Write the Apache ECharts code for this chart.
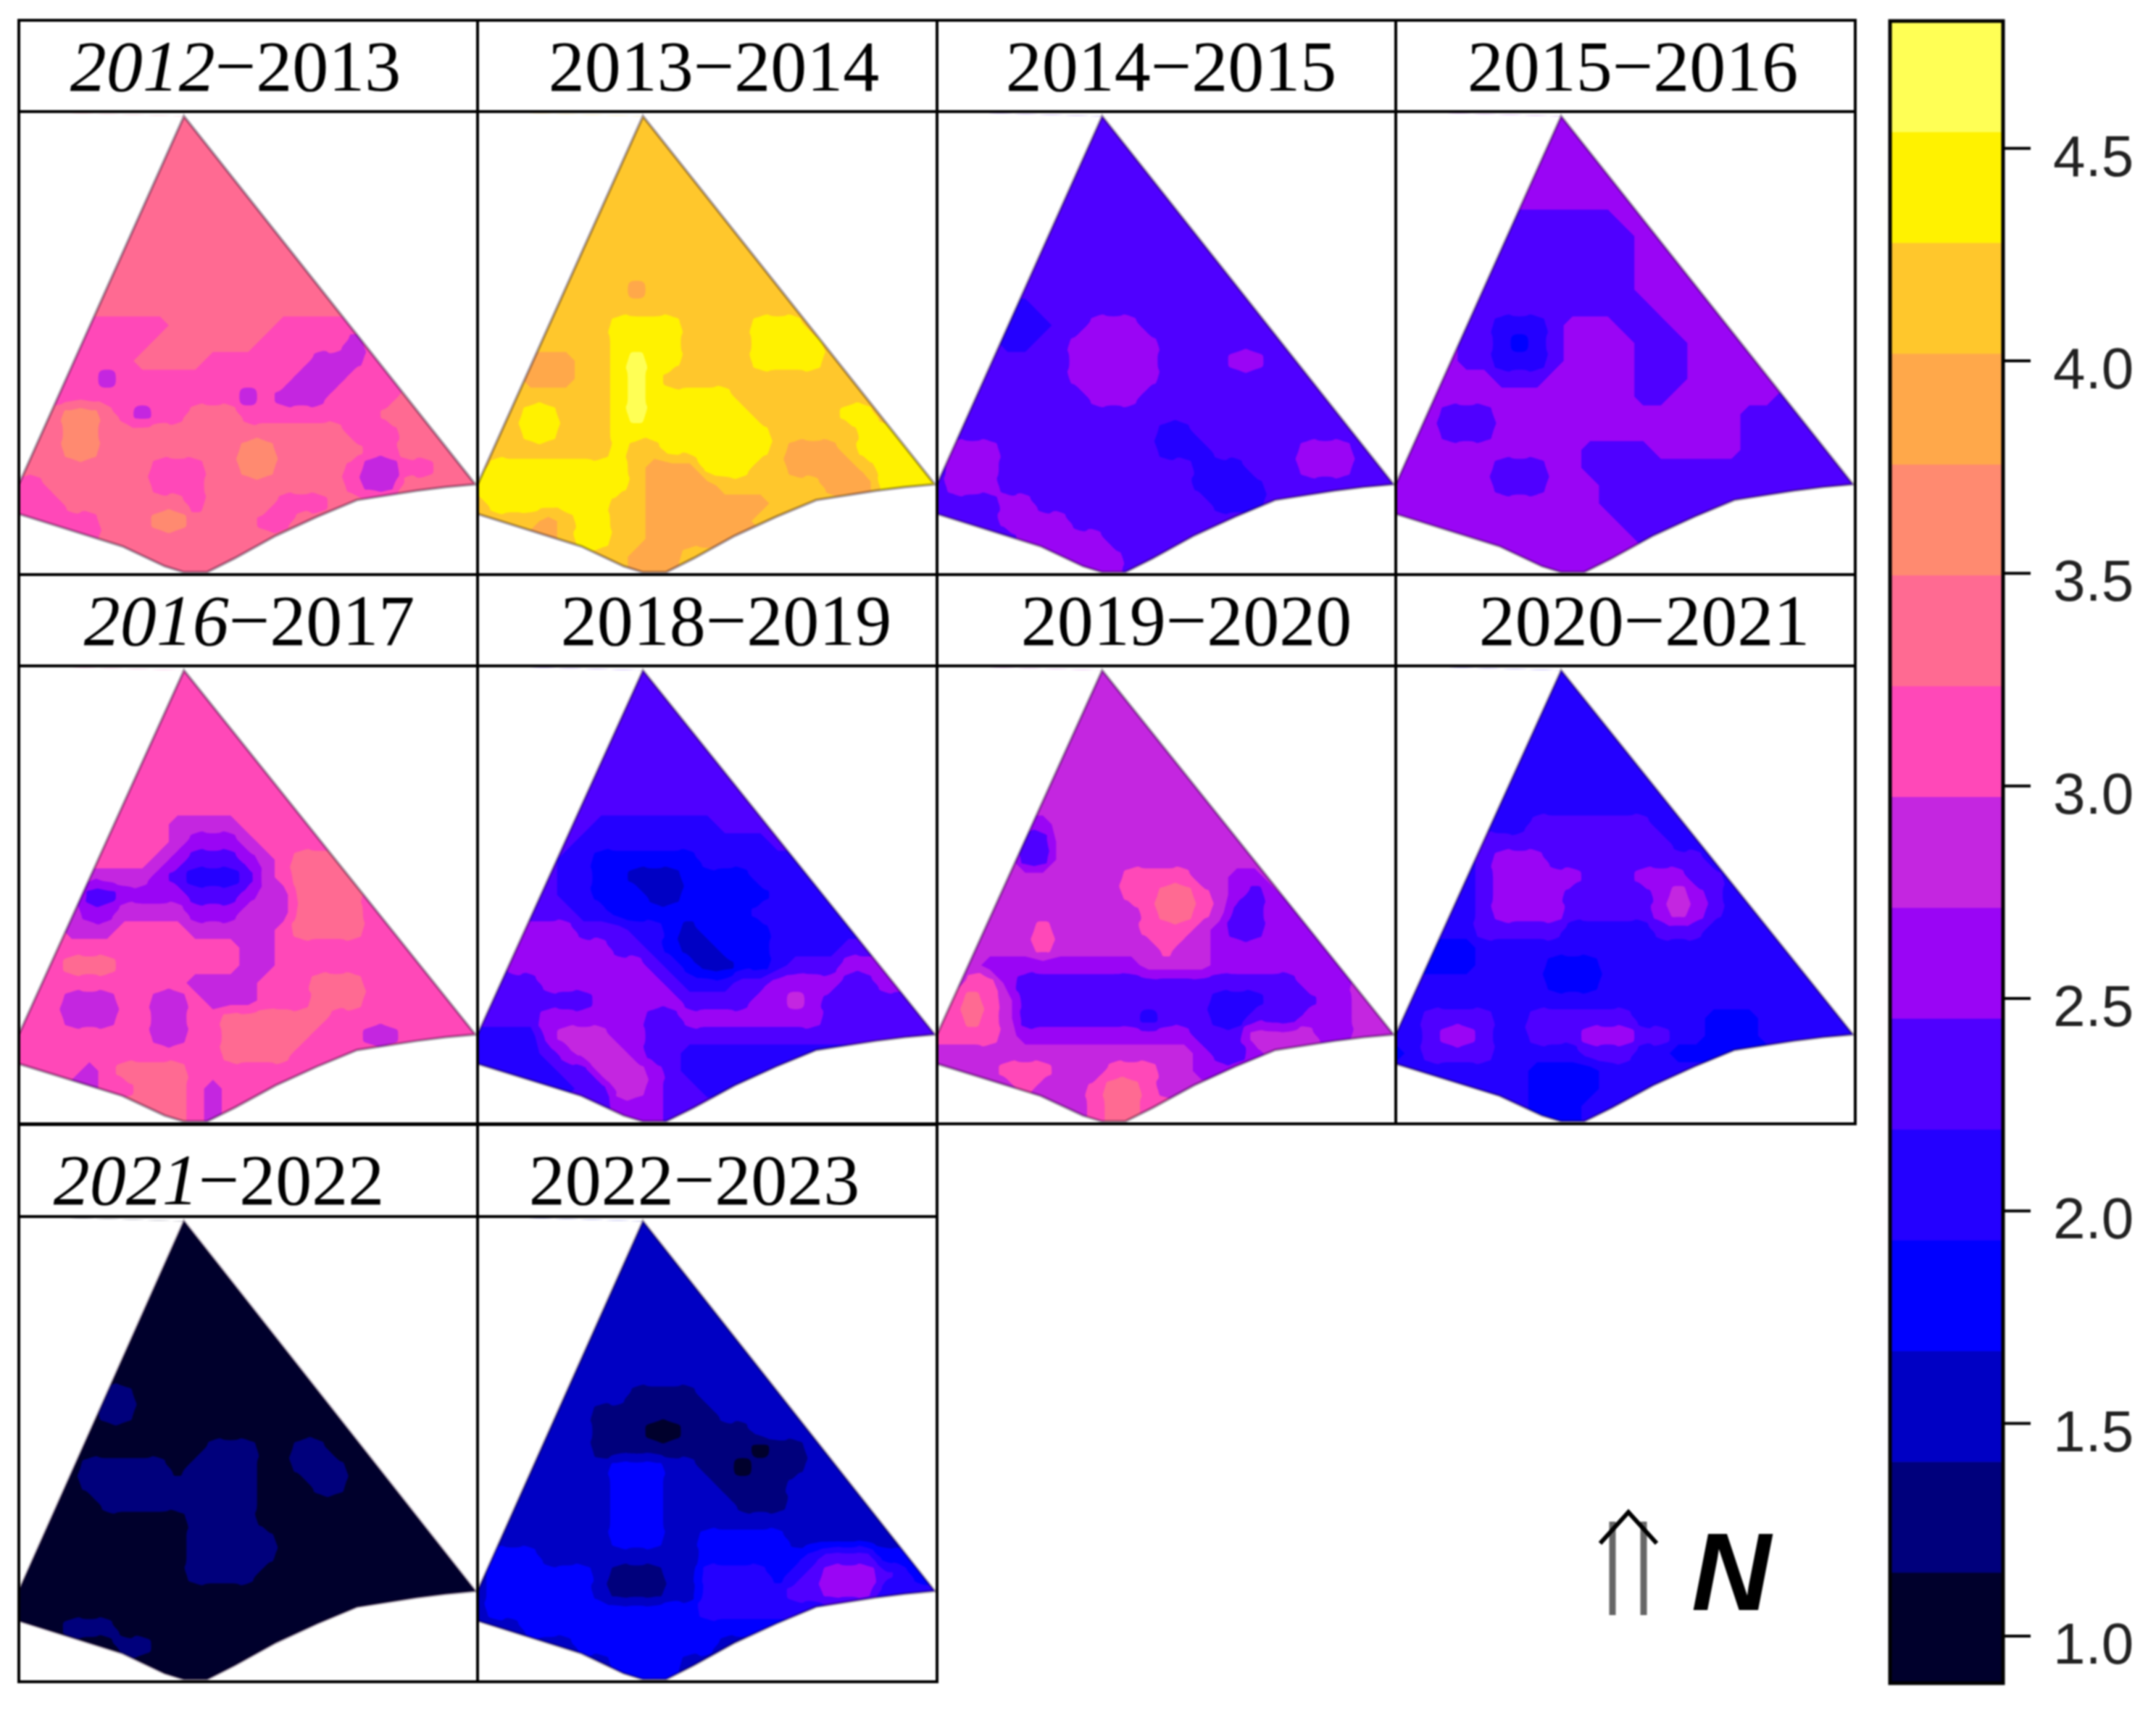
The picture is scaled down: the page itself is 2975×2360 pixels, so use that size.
<!DOCTYPE html>
<html><head><meta charset="utf-8">
<style>html,body{margin:0;padding:0;background:#fff}#c{width:2975px;height:2360px;filter:blur(1px)}</style>
<script src="https://cdn.jsdelivr.net/npm/echarts@6/dist/echarts.min.js"></script>
</head><body><div id="c"></div>
<script>
// Band colours of the legend, lowest band first; each band is 0.26 wide from 0.889.
const bandColors = ['#00002c','#00007c','#0000c4','#0000ff','#2400ff','#4f00ff','#9a05f5','#c426e0','#ff48b8','#ff6a92','#ff8a70','#ffa84a','#ffc72c','#fff200','#ffff55'];
const bandStart = 0.889, bandWidth = 0.2607;
const legendTicks = [1,1.5,2,2.5,3,3.5,4,4.5];

// Each panel: band index per sampled node (hex-like char), rows run north to south.
// rowStart gives the first sampled column of each row inside the site.
const rowStart = [9,9,8,8,7,7,6,6,5,5,4,4,4,3,3,2,2,1,1,0,0,0,0,1,4,7];

const p2012 = ["99","99","9999","99999","9999999","9999999","999999999","9999999999","999999999999","999999999999","99999999999999","999999999999999",
"8888899999988888","888889999998888878","888899998888887778","88878888888888777888","888888888887877788889","99aa9878899988888888999","99aa99999999999999888999",
"999aa99999999aa9999988999","9999999988899aa99998778899","88999999888999999998779999","88899999998999988899","8888999aa9999889","89999999999","999999"];
const p2013 = ["cc","cc","cccc","ccccc","ccccccc","ccccccc","ccccccccc","cccccccccc","cccccccccccc","cccccccccccc","cccccbcccccccc","ccccccccccccccc",
"ccccddddccccdddc","cccccddddccccddddc","bbbccdeddccccddddc","cbbbccdedccccccccccc","ccccccdedddddcccccccc","ccddcccdeddddddcccccddc","ccddcccdddddddddcccccddd",
"ccccccccdccddddddcbbbcddd","cddddddddcbbbdddccbbbbcddd","dddddddddcbbbbccccccbbbddd","cdddddddccbbbbbbbccc","cccbcddccbbbbbbc","bcddccbbbbb","ccbbbc"];
const p2014 = ["55","55","5555","55555","5555555","5555555","555555555","5555555555","555555555555","555555555555","55555555555555","445555555555555",
"4445566655555555","544556666655555555","555556666655556655","55555566666555555555","555555566655555555555","55555555555555555555555","555555555555445555555555",
"5666555555555444555556665","56665555555555544455566655","56665555555555544445555555","55556655555555554445","5556666555555555","56666655555","666655"];
const p2015 = ["66","66","6666","66666","6666666","6666666","655555566","5555555566","555555555666","555555555666","55555555556666","555555555556666",
"5544456665556666","655434566665556666","655444566665556666","66665556666655566666","666666666666556666665","66555666666666666665555","665556666666666666655555",
"6666666666655556666655555","66666655566555555555555555","66666655566655555555555555","66666666666655555555","6666666666665555","66666666665","666666"];
const p2016 = ["88","88","8888","88888","8888888","8888888","888888888","8888888888","888888888888","888877778888","88888766678888","888876555678999",
"7777654445789999","855666655567799998","766777766677799998","87778888777778999988","888888888887788888888","88999888888877888888888","888888888777788899988888",
"8887778877877788899988888","88877788778899999988888888","88888888778899999888778888","88888888888899998888","8887899998888888","78899987888","999878"];
const p2018 = ["55","55","5555","55555","5555555","5555555","555555555","5555555555","555555555555","554444444555","55444444444445","544333333444444",
"5443322233334444","554433322333334444","555443333333344444","66665554432333344444","666666554322333444455","56666666654322334555666","555666666654445566665566",
"5555555666665555667655555","55556666665566666666555555","44446777665555555555555555","44445677765544444444","4444557776544444","44557765544","566655"];
const p2019 = ["77","77","7777","77777","7777777","7777777","777777777","7777777777","777777777777","667777777777","75577777777777","755777777777777",
"7777777888877667","777777778899876567","777777777899875566","77778777778887655666","777787777778776666666","77666666666777766666666","788655555555555555556667",
"7898755555555555444555667","88987555555545554455566677","88887666666666655577776677","77777777777777765567","7778887778887766","78777899877","778998"];
const p2020 = ["44","44","4444","44444","4444444","4444444","444444444","4444444444","444444444444","444555555544","45555555555544","456665555555554",
"4566666555666554","445666655555676544","445666655555676544","44455555444445554444","333444444444444444444","33334444333444444444444","444444443334444444444444",
"4444444444444444444444444","44555544555555444433344444","44566544555666554433344444","34555544444555443333","4444444333344444","44443333444","433344"];
const p2021 = ["00","00","0000","00000","0000000","0000000","000000000","0000000000","000000000000","000000000000","01100000000000","011000000000000",
"0000000000000000","000000001110011000","011111011110011100","00111111111100011000","000111111111000000000","00000000011110000000000","000000000111110000000000",
"0000000000111110000000000","00000000001111000000000000","00000000000000000000000000","00000000000000000000","0011100000000000","00110000000","000000"];
const p2022 = ["22","22","2222","22222","2222222","2222222","222222222","2222222222","222222222222","222222222222","22222111122222","222111111122222",
"2221110011112222","222211111111101122","222223332211011122","22222233322211112222","222222333222211122222","22222223332222222222222","222222233322333332222222",
"2333222222222333333455533","23333332111224444345666543","23333332111224444455666444","23333333333334444444","2233333333333333","22333333332","233332"];

const panelRows = [p2012,p2013,p2014,p2015,p2016,p2018,p2019,p2020,p2021,p2022];
const titleFirst  = ["2012","2013","2014","2015","2016","2018","2019","2020","2021","2022"];
const titleSecond = ["2013","2014","2015","2016","2017","2019","2020","2021","2022","2023"];
const titleItalic = [true,false,false,false,true,false,false,false,true,false];
const titleCenter = [325,985,1616,2253,344,1002,1637,2269,302,958];

// Site outline in panel fractions, clockwise from the north vertex.
const outlineX = [.36,.995,.93,.867,.737,.65,.56,.47,.41,.36,.318,.226,0,0];
const outlineY = [.01,.805,.811,.819,.839,.875,.916,.965,.995,.995,.982,.939,.869,.805];

const colX = [26,659,1293,1926,2560];
const rowTop = [28,793,1552], rowTitleBottom = [154,919,1679], rowBottom = [793,1551,2321];
const titleBaseline = [133,898,1670];
const N = 27;

function nodeGrid(rows){
  const g = [];
  for(let j=0;j<rows.length;j++){
    const s = rows[j], st = rowStart[j], a = [];
    for(let i=0;i<N;i++){
      const k = Math.max(0,Math.min(s.length-1,i-st));
      a.push(parseInt(s[k],16));
    }
    g.push(a);
  }
  g.push(g[g.length-1].slice());
  return g;
}
// Trace the filled-contour outlines of the node table; biggest outline first so
// that painting them in order gives the nested bands.
function traceLoops(g){
  const M = N+4, P = [];
  for(let j=0;j<M;j++){
    const a=[];
    for(let i=0;i<M;i++){
      if(i===0||j===0||i===M-1||j===M-1) a.push(-1);
      else a.push(g[Math.max(0,Math.min(N-1,j-2))][Math.max(0,Math.min(N-1,i-2))]);
    }
    P.push(a);
  }
  const fx=i=>(i-2)/(N-1), clamp=v=>Math.max(0,Math.min(1,v)), loops=[];
  let lo=99, hi=-1;
  g.forEach(r=>r.forEach(v=>{lo=Math.min(lo,v);hi=Math.max(hi,v);}));
  for(let k=lo;k<=hi;k++){
    const t=k-0.5, next=new Map();
    for(let j=0;j<M-1;j++)for(let i=0;i<M-1;i++){
      const a=P[j][i],b=P[j][i+1],c=P[j+1][i+1],d=P[j+1][i];
      const ed=[[a,b,'h'+i+','+j,i,j,i+1,j],[b,c,'v'+(i+1)+','+j,i+1,j,i+1,j+1],[c,d,'h'+i+','+(j+1),i+1,j+1,i,j+1],[d,a,'v'+i+','+j,i,j+1,i,j]];
      const cr=[];
      ed.forEach(e=>{
        if((e[0]>=t)!==(e[1]>=t)){
          const f=(t-e[0])/(e[1]-e[0]);
          cr.push({key:e[2],entry:e[0]<t,x:clamp(fx(e[3]+f*(e[5]-e[3]))),y:clamp(fx(e[4]+f*(e[6]-e[4])))});
        }
      });
      if(cr.length===2){
        const p=cr[0].entry?cr[0]:cr[1], q=cr[0].entry?cr[1]:cr[0];
        next.set(p.key,{to:q.key,x:p.x,y:p.y});
      }else if(cr.length===4){
        const highCentre=(a+b+c+d)/4>=t;
        cr.forEach((p,m)=>{
          if(!p.entry) return;
          const q=cr[highCentre?(m+3)%4:(m+1)%4];
          next.set(p.key,{to:q.key,x:p.x,y:p.y});
        });
      }
    }
    const seen=new Set();
    next.forEach((_,start)=>{
      if(seen.has(start)) return;
      const pts=[]; let key=start, guard=0;
      while(key&&!seen.has(key)&&guard++<100000){
        seen.add(key);
        const s=next.get(key);
        if(!s) break;
        pts.push([s.x,s.y]); key=s.to;
      }
      let area=0;
      pts.forEach((p,n)=>{const q=pts[(n+1)%pts.length];area+=p[0]*q[1]-q[0]*p[1];});
      loops.push({pts:pts,level:area<0?k:k-1,size:Math.abs(area)});
    });
  }
  loops.sort((u,v)=>v.size-u.size);
  return loops;
}
function renderMask(params,api){
  const c=(x,y)=>api.coord([x,y]);
  const o=outlineX.map((x,i)=>c(x,outlineY[i]));
  const white={fill:'#fff'};
  const kids=[
    {type:'polygon',shape:{points:[c(0,0),o[0],o[o.length-1]]},style:white},
    {type:'polygon',shape:{points:[c(0,0),c(1,0),c(1,outlineY[1]),o[1],o[0]]},style:white},
    {type:'polygon',shape:{points:o.slice(1,o.length-1).concat([c(0,1),c(1,1),c(1,outlineY[1])])},style:white},
    {type:'polygon',shape:{points:o},style:{fill:'none',stroke:'rgba(20,0,30,0.34)',lineWidth:4}}
  ];
  return {type:'group',silent:true,children:kids};
}

const grids=[],xAxes=[],yAxes=[],series=[],titles=[],gfx=[];
panelRows.forEach((rows,p)=>{
  const r=Math.floor(p/4), c=p%4;
  grids.push({left:colX[c],top:rowTitleBottom[r],width:colX[c+1]-colX[c],height:rowBottom[r]-rowTitleBottom[r],show:false});
  xAxes.push({type:'value',gridIndex:p,min:0,max:1,show:false});
  yAxes.push({type:'value',gridIndex:p,min:0,max:1,inverse:true,show:false});
  const loops=traceLoops(nodeGrid(rows));
  series.push({type:'custom',name:titleFirst[p]+'-'+titleSecond[p],xAxisIndex:p,yAxisIndex:p,clip:true,silent:true,z:2,
    encode:{x:1,y:2},data:loops.map((l,n)=>[n,0,0,l.level]),
    renderItem:(params,api)=>{
      const l=loops[api.value(0)], col=bandColors[Math.max(0,l.level)];
      const atEdge=l.pts.some(q=>q[1]<=0);
      return {type:'polygon',silent:true,shape:{points:l.pts.map(q=>api.coord(q)),smooth:atEdge?0:0.8,smoothConstraint:[api.coord([0,0]),api.coord([1,1])]},style:{fill:col}};
    }});
  series.push({type:'custom',xAxisIndex:p,yAxisIndex:p,clip:false,silent:true,z:3,encode:{x:0,y:1},renderItem:renderMask,data:[[0,0]]});
  const first=titleItalic[p]?'{i|'+titleFirst[p]+'}':'{n|'+titleFirst[p]+'}';
  titles.push({left:titleCenter[p],top:titleBaseline[r]-92,textAlign:'center',padding:0,
    text:first+'{n|\u2212'+titleSecond[p]+'}',
    textStyle:{fontWeight:'normal',rich:{
      i:{fontFamily:'Liberation Serif',fontSize:100,fontStyle:'italic',fontWeight:'normal',color:'#000',lineHeight:115},
      n:{fontFamily:'Liberation Serif',fontSize:100,fontWeight:'normal',color:'#000',lineHeight:115}}}});
  [[rowTop[r],rowTitleBottom[r]],[rowTitleBottom[r],rowBottom[r]]].forEach(v=>{
    gfx.push({type:'rect',z:100,silent:true,shape:{x:colX[c],y:v[0],width:colX[c+1]-colX[c],height:v[1]-v[0]},style:{fill:'none',stroke:'#000',lineWidth:4}});
  });
});

// Colour legend
const L=panelRows.length;
grids.push({left:2608,top:29,width:156,height:2294,show:false});
xAxes.push({type:'value',gridIndex:L,min:0,max:1,show:false});
yAxes.push({type:'value',gridIndex:L,position:'right',min:bandStart,max:bandStart+bandWidth*bandColors.length,
  axisLine:{show:false},splitLine:{show:false},axisTick:{show:false},
  axisLabel:{show:true,margin:69,verticalAlign:'top',lineHeight:32,color:'#222',fontFamily:'Liberation Sans',fontSize:80,customValues:legendTicks,formatter:v=>Number(v).toFixed(1)}});
series.push({type:'custom',name:'legend',xAxisIndex:L,yAxisIndex:L,silent:true,encode:{y:[1,2]},
  data:bandColors.map((_,k)=>[k,bandStart+k*bandWidth,bandStart+(k+1)*bandWidth]),
  renderItem:(params,api)=>{
    const a=api.coord([0,api.value(2)]), b=api.coord([1,api.value(1)]);
    const col=bandColors[api.value(0)];
    return {type:'rect',shape:{x:a[0],y:a[1],width:b[0]-a[0],height:b[1]-a[1]},style:{fill:col,stroke:col,lineWidth:1}};
  }});
series.push({type:'custom',name:'legend ticks',xAxisIndex:L,yAxisIndex:L,clip:false,silent:true,encode:{y:0},
  data:legendTicks.map(v=>[v]),
  renderItem:(params,api)=>{
    const a=api.coord([1,api.value(0)]);
    return {type:'line',shape:{x1:a[0],y1:a[1],x2:a[0]+38,y2:a[1]},style:{stroke:'#000',lineWidth:4}};
  }});
gfx.push({type:'rect',z:100,silent:true,shape:{x:2608,y:29,width:156,height:2294},style:{fill:'none',stroke:'#000',lineWidth:5}});

// North sign
gfx.push({type:'line',z:100,silent:true,shape:{x1:2225,y1:2100,x2:2225,y2:2229},style:{stroke:'#666',lineWidth:9}});
gfx.push({type:'line',z:100,silent:true,shape:{x1:2268,y1:2100,x2:2268,y2:2229},style:{stroke:'#666',lineWidth:9}});
gfx.push({type:'polyline',z:101,silent:true,shape:{points:[[2208,2130],[2247,2087],[2286,2130]]},style:{stroke:'#000',fill:'none',lineWidth:6}});
gfx.push({type:'text',z:100,silent:true,x:2334,y:2256,style:{text:'N',fill:'#000',font:'italic bold 152px "Liberation Sans"',verticalAlign:'bottom'}});

const chart=echarts.init(document.getElementById('c'),null,{renderer:'canvas'});
chart.setOption({backgroundColor:'#fff',animation:false,title:titles,grid:grids,xAxis:xAxes,yAxis:yAxes,series:series,graphic:{elements:gfx}});
</script></body></html>
